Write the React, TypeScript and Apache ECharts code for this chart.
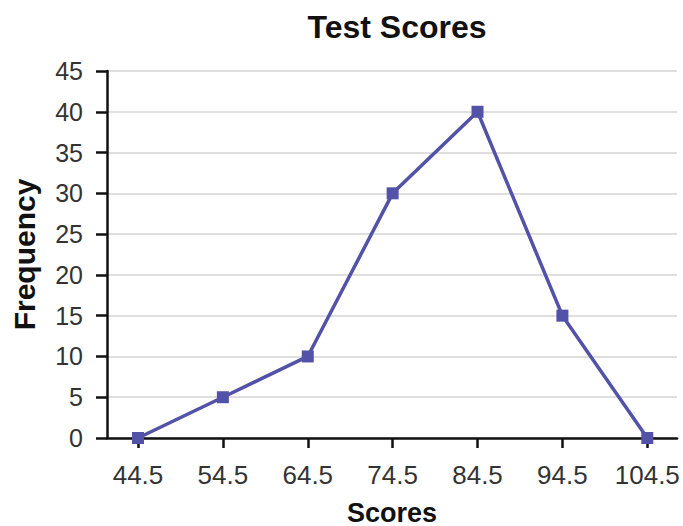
import React, { useEffect, useRef } from "react";
import * as echarts from "echarts";

const scores = [44.5, 54.5, 64.5, 74.5, 84.5, 94.5, 104.5];
const frequency = [0, 5, 10, 30, 40, 15, 0];
const yTicks = [0, 5, 10, 15, 20, 25, 30, 35, 40, 45];

export default function App() {
  const ref = useRef<HTMLDivElement>(null);
  useEffect(() => {
    const chart = echarts.init(ref.current!, null, { renderer: "svg" });
    const font = "Liberation Sans, Arial, sans-serif";
    chart.setOption({
      animation: false,
      backgroundColor: "#ffffff",
      title: {
        text: "Test Scores",
        left: 392,
        textAlign: "center",
        top: 6,
        textStyle: { fontFamily: font, fontSize: 32, fontWeight: "bold", color: "#111" },
      },
      grid: { left: 107, right: 6, top: 71, bottom: 88, containLabel: false, outerBoundsMode: "none" },
      xAxis: {
        type: "value",
        min: 40.85,
        max: 108,
        name: "Scores",
        nameLocation: "middle",
        nameGap: 61,
        nameTextStyle: { fontFamily: font, fontSize: 27, fontWeight: "bold", color: "#111" },
        axisLine: { show: true, onZero: false, lineStyle: { color: "#111", width: 2.5 } },
        axisTick: { show: true, length: 10, customValues: scores, lineStyle: { color: "#111", width: 2.5 } },
        axisLabel: {
          customValues: scores,
          margin: 24,
          fontFamily: font,
          fontSize: 26,
          color: "#333",
          formatter: (v: number) => v.toFixed(1),
        },
        splitLine: { show: false },
      },
      yAxis: {
        type: "value",
        min: 0,
        max: 45,
        interval: 5,
        name: "Frequency",
        nameLocation: "middle",
        nameGap: 68,
        nameRotate: 90,
        nameTextStyle: { fontFamily: font, fontSize: 30, fontWeight: "bold", color: "#111" },
        axisLine: { show: true, lineStyle: { color: "#111", width: 2.5 } },
        axisTick: { show: true, length: 11, lineStyle: { color: "#111", width: 2.5 } },
        axisLabel: {
          margin: 24,
          fontFamily: font,
          fontSize: 25,
          color: "#333",
          customValues: yTicks,
        },
        splitLine: { show: true, lineStyle: { color: "#d4d4d4", width: 1.5 } },
      },
      series: [
        {
          type: "line",
          data: scores.map((s, i) => [s, frequency[i]]),
          symbol: "rect",
          symbolSize: 12,
          lineStyle: { color: "#5252a8", width: 3.5 },
          itemStyle: { color: "#5252a8" },
        },
      ],
    });
    return () => chart.dispose();
  }, []);
  return <div ref={ref} style={{ width: 683, height: 526, position: "absolute", left: 0, top: 0 }} />;
}
